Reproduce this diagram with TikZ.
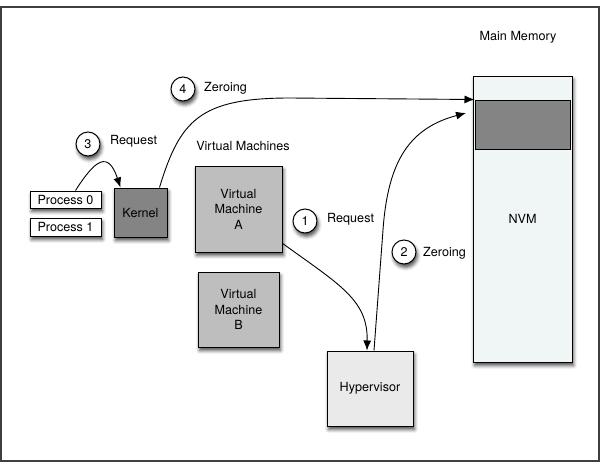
\documentclass[tikz,border=0pt]{standalone}
\usepackage{fontspec}
\setmainfont{TeX Gyre Heros}
\usetikzlibrary{arrows.meta,shadows.blur}

\definecolor{kernelgray}{RGB}{132,132,132}
\definecolor{vmgray}{RGB}{190,190,190}
\definecolor{hypgray}{RGB}{234,234,234}
\definecolor{memfill}{RGB}{240,245,246}

\begin{document}
\begin{tikzpicture}[x=1pt,y=-1pt,
 every node/.style={font=\fontsize{12.6}{15.5}\selectfont},
 shade/.style={blur shadow={shadow xshift=1.5pt,shadow yshift=-3.5pt,shadow blur radius=3.5pt,shadow opacity=70}},
 box/.style={draw,line width=1pt,inner sep=0pt,align=center},
 num/.style={circle,draw,fill=white,line width=1pt,minimum size=24pt,inner sep=0pt,shade},
 tag/.style={anchor=west,inner sep=0pt},
 arr/.style={line width=0.9pt,-{Latex[length=10pt,width=8pt]}}]
 \useasboundingbox (0,0) rectangle (602,466);
 \draw [black!75,line width=1.5pt] (1,7) rectangle (599,461);

 \node (mmlabel) at (518,37) {Main Memory};
 \node [box,shade,fill=memfill,minimum width=99pt,minimum height=286pt] (mem) at (522.5,219) {NVM};
 \node [box,fill=kernelgray,minimum width=95pt,minimum height=49pt] (band) at (522.5,124.5) {};
 \coordinate (memin) at (466,113);

 \node [box,shade,fill=white,minimum width=71pt,minimum height=17pt] (p0) at (65.5,199.5) {Process 0};
 \node [box,shade,fill=white,minimum width=71pt,minimum height=18pt] (p1) at (65.5,227) {Process 1};
 \node [box,shade,fill=kernelgray,minimum width=53pt,minimum height=49pt] (kern) at (140.5,212.5) {Kernel};

 \node (vmlabel) at (243,146) {Virtual Machines};
 \node [box,shade,fill=vmgray,minimum width=87pt,minimum height=86pt] (vmA) at (238.5,209) {Virtual\\Machine\\A};
 \node [box,shade,fill=vmgray,minimum width=81pt,minimum height=75pt] (vmB) at (238.5,309.5) {Virtual\\Machine\\B};
 \node [box,shade,fill=hypgray,minimum width=86pt,minimum height=75pt] (hyp) at (370,388.5) {Hypervisor};

 \node [num] (n1) at (305,221) {1};
 \node [tag] (t1) at (327,219) {Request};
 \node [num] (n2) at (404,252) {2};
 \node [tag] (t2) at (423,253) {Zeroing};
 \node [num] (n3) at (88,144) {3};
 \node [tag] (t3) at (110,141) {Request};
 \node [num] (n4) at (183,89) {4};
 \node [tag] (t4) at (204,88) {Zeroing};

 \draw [arr] ([xshift=10pt]p0.north) .. controls (95,160) and (108,150) .. ([xshift=7pt]kern.north west);
 \draw [arr] ([xshift=-8pt]kern.north east) .. controls (180,120) and (200,98) .. (290,98) -- (band.north west);
 \draw [arr] (vmA.-38) .. controls (340,285) and (368,300) .. ([xshift=-3pt]hyp.north);
 \draw [arr] ([xshift=4pt]hyp.north) -- (383,230) .. controls (388,160) and (410,128) .. (memin);
\end{tikzpicture}
\end{document}
